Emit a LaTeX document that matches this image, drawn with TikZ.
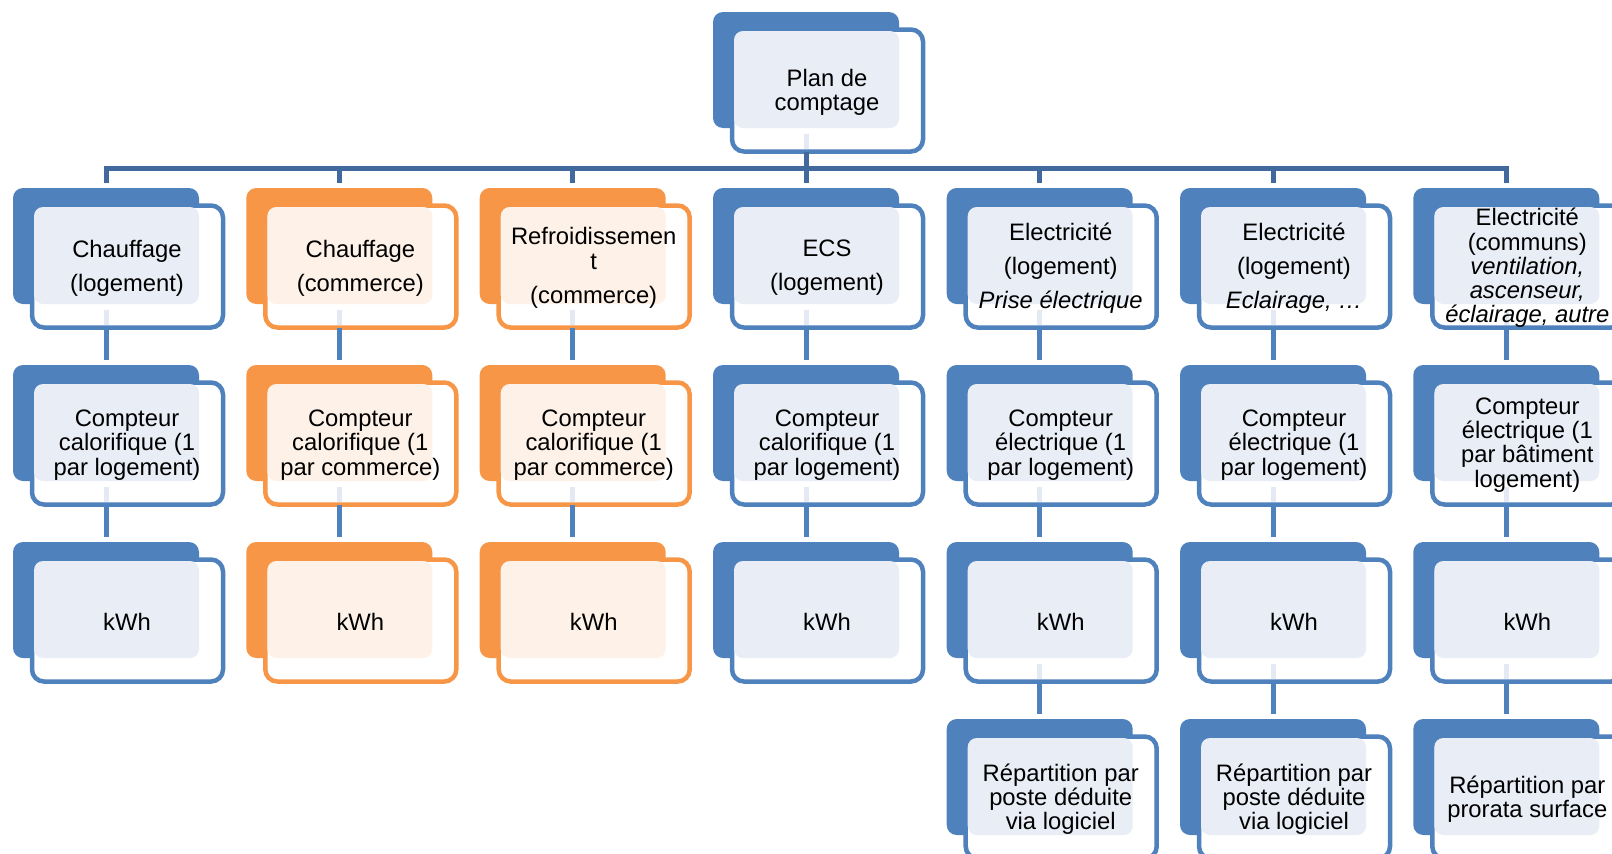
\documentclass[tikz,border=0pt]{standalone}
\usepackage{fontspec}
\setmainfont{Liberation Sans}
\definecolor{myblue}{HTML}{4F81BD}
\definecolor{mylight}{HTML}{E9EDF5}
\definecolor{myorange}{HTML}{F79646}
\definecolor{mylightor}{HTML}{FEF1E7}
\definecolor{topblue}{HTML}{41699E}
\definecolor{faint}{HTML}{E4EAF3}
\tikzset{
  backB/.style={rounded corners=10pt, minimum width=186pt, minimum height=116pt, inner sep=0pt, outer sep=0pt},
  frontB/.style={fill=white, line width=4.5pt, rounded corners=12pt, minimum width=191pt, minimum height=122pt, inner sep=0pt, outer sep=0pt},
  lightB/.style={rounded corners=9pt, minimum width=165pt, minimum height=97pt, inner sep=0pt, outer sep=0pt},
  txt/.style={align=center, inner sep=0pt, font=\fontsize{23.8pt}{24.2pt}\selectfont},
  topline/.style={draw=topblue, line width=5pt},
  rowline/.style={draw=myblue, line width=5pt},
  faintline/.style={draw=faint, line width=5pt}
}
\newcommand\mkbox[5]{%
  \node[backB, fill=#4] (#1-back) at ({#2+93},{#3+58}) {};
  \node[frontB, draw=#4] (#1-front) at ({#2+114.5},{#3+78.5}) {};
  \node[lightB, fill=#5] (#1-light) at ({#2+103.5},{#3+67.5}) {};
  \coordinate (#1-c) at ({#2+114},{#3+80});
  \coordinate (#1-top) at ({#2+93},{#3-5});
  \coordinate (#1-bot) at ({#2+93},{#3+139.5});
  \coordinate (#1-fa) at ({#2+93},{#3+122});
  \coordinate (#1-fb) at ({#2+93},{#3+137});
}
\newcommand\mktext[2]{\node[txt] (#1) at (#1-c) {#2};}
\newcommand\link[2]{\draw[faintline] (#1-fa) -- (#1-fb); \draw[rowline] (#1-bot) -- (#2-top);}
\begin{document}
\begin{tikzpicture}[x=1pt,y=-1pt]
\useasboundingbox (0,0) rectangle (1612,854);
\clip (0,0) rectangle (1612,854);
% boxes
\mkbox{root}{713}{12}{myblue}{mylight}
\foreach \i/\bx/\cb/\cl in {1/13/myblue/mylight, 2/246.3/myorange/mylightor, 3/479.7/myorange/mylightor, 4/713/myblue/mylight, 5/946.7/myblue/mylight, 6/1180/myblue/mylight, 7/1413.3/myblue/mylight}{
  \mkbox{a\i}{\bx}{188}{\cb}{\cl}
  \mkbox{b\i}{\bx}{365}{\cb}{\cl}
  \mkbox{k\i}{\bx}{542}{\cb}{\cl}
}
\mkbox{r5}{946.7}{719}{myblue}{mylight}
\mkbox{r6}{1180}{719}{myblue}{mylight}
\mkbox{r7}{1413.3}{719}{myblue}{mylight}
% top tree
\coordinate (bar) at (0,168);
\draw[faintline] (root-fa) -- (root-fb);
\draw[topline] (root-bot) -- (root-bot |- bar);
\draw[topline, line join=miter] (a1-top) -- (a1-top |- bar) -- (a7-top |- bar) -- (a7-top);
\foreach \i in {2,...,6}{\draw[topline] (a\i-top |- bar) -- (a\i-top);}
% row connectors
\foreach \i in {1,...,7}{\link{a\i}{b\i} \link{b\i}{k\i}}
\link{k5}{r5} \link{k6}{r6} \link{k7}{r7}
% texts
\mktext{root}{Plan de\\comptage}
\mktext{a1}{Chauffage\\[10pt](logement)}
\mktext{a2}{Chauffage\\[10pt](commerce)}
\mktext{a3}{Refroidissemen\\t\\[10pt](commerce)}
\mktext{a4}{ECS\\[10pt](logement)}
\mktext{a5}{Electricité\\[10pt](logement)\\[10pt]\textit{Prise électrique}}
\mktext{a6}{Electricité\\[10pt](logement)\\[10pt]\textit{Eclairage, …}}
\mktext{a7}{Electricité\\(communs)\\\textit{ventilation,}\\\textit{ascenseur,}\\\textit{éclairage, autre}}
\mktext{b1}{Compteur\\calorifique (1\\par logement)}
\mktext{b2}{Compteur\\calorifique (1\\par commerce)}
\mktext{b3}{Compteur\\calorifique (1\\par commerce)}
\mktext{b4}{Compteur\\calorifique (1\\par logement)}
\mktext{b5}{Compteur\\électrique (1\\par logement)}
\mktext{b6}{Compteur\\électrique (1\\par logement)}
\mktext{b7}{Compteur\\électrique (1\\par bâtiment\\logement)}
\foreach \i in {1,...,7}{\mktext{k\i}{kWh}}
\mktext{r5}{Répartition par\\poste déduite\\via logiciel}
\mktext{r6}{Répartition par\\poste déduite\\via logiciel}
\mktext{r7}{Répartition par\\prorata surface}
\end{tikzpicture}
\end{document}
